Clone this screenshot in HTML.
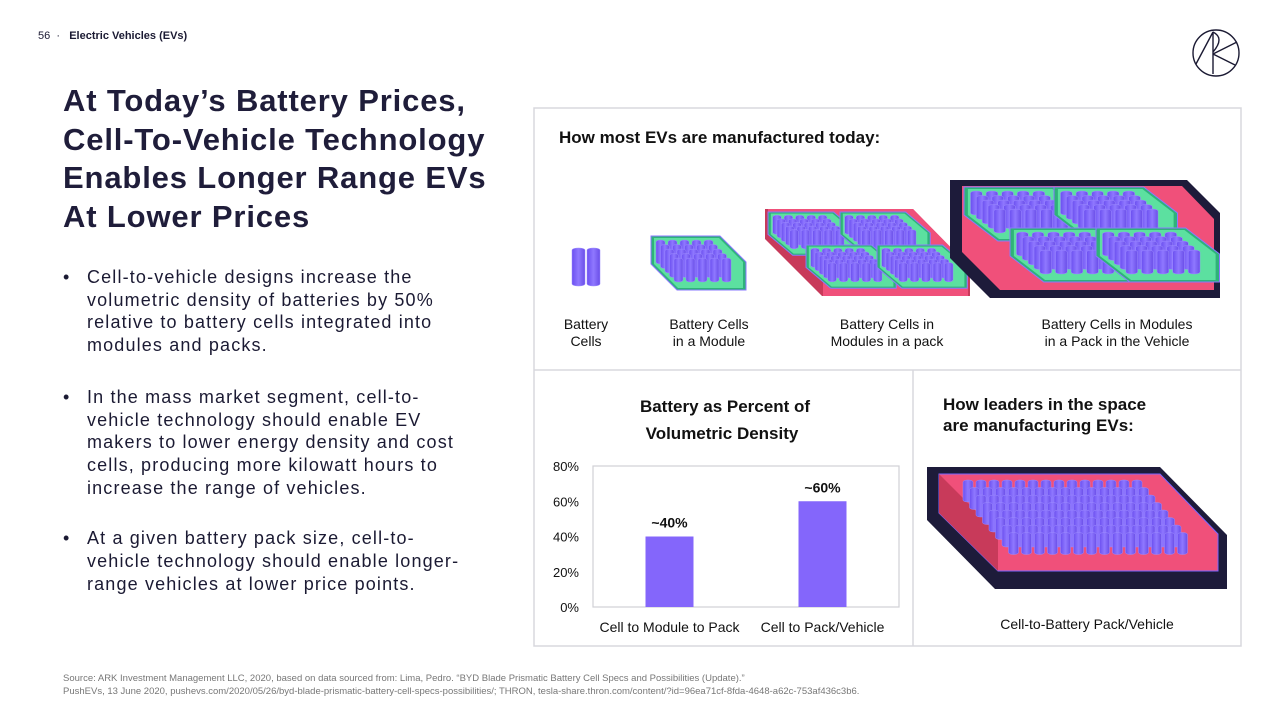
<!DOCTYPE html>
<html><head><meta charset="utf-8">
<style>
body{margin:0;width:1280px;height:720px;background:#fff;font-family:"Liberation Sans",sans-serif;color:#1b1a33;position:relative;overflow:hidden}
.a{position:absolute}
.b{position:relative;padding-left:24px;white-space:nowrap}
.b span{position:absolute;left:0}
</style></head><body>
<div class="a" style="left:38px;top:30px;font-size:11px">56 &nbsp;·&nbsp;&nbsp; <b>Electric Vehicles (EVs)</b></div>
<svg class="a" style="left:1191px;top:28px" width="50" height="50" viewBox="0 0 50 50"><g fill="none" stroke="#1b1a33" stroke-width="1.4"><circle cx="25" cy="25" r="23"/><path d="M5 36 L22 4 L22 46 M22 26 L46 14 M22 26 L44 37 M22 4 Q34 10 22 24"/></g></svg>
<div class="a" style="left:63px;top:82px;font-size:31px;font-weight:bold;line-height:38.5px;color:#1f1d3a;letter-spacing:0.85px;white-space:nowrap">At Today’s Battery Prices,<br>Cell-To-Vehicle Technology<br>Enables Longer Range EVs<br>At Lower Prices</div>
<div class="a" style="left:63px;top:266px;font-size:18px;line-height:22.7px;letter-spacing:1.15px">
<div class="b"><span>•</span>Cell-to-vehicle designs increase the<br>volumetric density of batteries by 50%<br>relative to battery cells integrated into<br>modules and packs.</div>
<div class="b" style="margin-top:29px"><span>•</span>In the mass market segment, cell-to-<br>vehicle technology should enable EV<br>makers to lower energy density and cost<br>cells, producing more kilowatt hours to<br>increase the range of vehicles.</div>
<div class="b" style="margin-top:28px"><span>•</span>At a given battery pack size, cell-to-<br>vehicle technology should enable longer-<br>range vehicles at lower price points.</div>
</div>
<div class="a" style="left:63px;top:672px;font-size:9.5px;line-height:13px;color:#777">Source: ARK Investment Management LLC, 2020, based on data sourced from: Lima, Pedro. “BYD Blade Prismatic Battery Cell Specs and Possibilities (Update).”<br>PushEVs, 13 June 2020, pushevs.com/2020/05/26/byd-blade-prismatic-battery-cell-specs-possibilities/; THRON, tesla-share.thron.com/content/?id=96ea71cf-8fda-4648-a62c-753af436c3b6.</div>

<svg class="a" id="main" style="left:0;top:0" width="1280" height="720">
<defs><linearGradient id="cyl" x1="0" x2="1"><stop offset="0" stop-color="#6b4ff0"/><stop offset=".5" stop-color="#8f78ff"/><stop offset="1" stop-color="#6a4ee8"/></linearGradient></defs>
<g fill="none" stroke="#d8d8de" stroke-width="1.5"><rect x="534" y="108" width="707" height="538"/><line x1="534" y1="370" x2="1241" y2="370"/><line x1="913" y1="370" x2="913" y2="646"/></g>
<text x="559" y="143" font-size="17" font-weight="bold" fill="#111">How most EVs are manufactured today:</text>
<g font-size="14" fill="#111" text-anchor="middle">
<text x="586" y="329">Battery</text><text x="586" y="346">Cells</text>
<text x="709" y="329">Battery Cells</text><text x="709" y="346">in a Module</text>
<text x="887" y="329">Battery Cells in</text><text x="887" y="346">Modules in a pack</text>
<text x="1117" y="329">Battery Cells in Modules</text><text x="1117" y="346">in a Pack in the Vehicle</text>
<text x="1087" y="629">Cell-to-Battery Pack/Vehicle</text>
</g>
<g font-size="17" font-weight="bold" fill="#111">
<text x="725" y="412" text-anchor="middle">Battery as Percent of</text><text x="722" y="439" text-anchor="middle">Volumetric Density</text>
<text x="943" y="410">How leaders in the space</text><text x="943" y="431">are manufacturing EVs:</text>
</g>
<g id="illus"></g>
<g id="chart"></g>
</svg>
<script>
const categories=["Cell to Module to Pack","Cell to Pack/Vehicle"];
const values=[40,60];
const valueLabels=["~40%","~60%"];
const ticks=[0,20,40,60,80];
const NS="http://www.w3.org/2000/svg";
function mk(p,t,a){const e=document.createElementNS(NS,t);for(const k in a)e.setAttribute(k,a[k]);p.appendChild(e);return e;}
const ch=document.getElementById('chart');
const x0=593,x1=899,y0=607,y1=466;
const y=v=>y0-(v/80)*(y0-y1);
const band=(x1-x0)/categories.length;
const xc=i=>x0+band*(i+0.5);
const fr=mk(ch,'rect',{x:x0,y:y1,width:x1-x0,height:y0-y1,fill:'none',stroke:'#d0d0d6','stroke-width':1.2});


ticks.forEach(t=>{const e=mk(ch,'text',{x:x0-14,y:y(t)+5,'text-anchor':'end','font-size':13,fill:'#111'});e.textContent=t+'%';

});
values.forEach((v,i)=>{const b=mk(ch,'rect',{x:xc(i)-24,y:y(v),width:48,height:y0-y(v),fill:'#8466fb'});


const l=mk(ch,'text',{x:xc(i),y:y(v)-9,'text-anchor':'middle','font-size':14,'font-weight':'bold',fill:'#111'});l.textContent=valueLabels[i];


const c=mk(ch,'text',{x:xc(i),y:632,'text-anchor':'middle','font-size':14,fill:'#111'});c.textContent=categories[i];

});
const il=document.getElementById('illus');


function poly(pts,f,s){mk(il,'polygon',{points:pts,fill:f,stroke:s||'none','stroke-width':1});}
function cyls(x,yy,cols,rows,w,h,dx,dy,shift){for(let r=0;r<rows;r++)for(let c=0;c<cols;c++){const cx=x+c*dx+r*shift,cy=yy+r*dy;mk(il,'rect',{x:cx,y:cy,width:w,height:h,rx:w/2,ry:2,fill:'url(#cyl)',stroke:'#9d8cff','stroke-width':.5});}}
cyls(572,248,2,1,13,38,15,0,0);
function module(x,yy,s,t){t=t||s;
poly(`${x},${yy} ${x+69*s},${yy} ${x+95*s},${yy+26*t} ${x+95*s},${yy+54*t} ${x+26*s},${yy+54*t} ${x},${yy+28*t}`,'#2fb27a','#8a78ff');
poly(`${x+3*s},${yy+2*t} ${x+68*s},${yy+2*t} ${x+92*s},${yy+26*t} ${x+92*s},${yy+52*t} ${x+27*s},${yy+52*t} ${x+3*s},${yy+28*t}`,'#5ce0a0');
cyls(x+5*s,yy+4*t,5,5,9*s,24*t,12*s,4.5*t,4.5*s);}
module(651,236,1);
poly('765,209 913,209 970,267 970,296 822,296 765,239','#c83a5a');
poly('768,209 913,209 968,265 968,296 823,296 823,266 768,212','#f0507a');
module(768,212,0.95,0.8);module(840,212,0.95,0.8);module(806,245,0.95,0.8);module(877,245,0.95,0.8);
poly('950,180 1187,180 1220,213 1220,298 990,298 950,258','#1d1b3a');
poly('962,186 1182,186 1214,219 1214,290 1000,290 962,252','#f0507a');
module(964,187,1.3,1.0);module(1054,187,1.3,1.0);module(1010,228,1.3,1.0);module(1096,228,1.3,1.0);
poly('927,467 1160,467 1227,535 1227,589 995,589 927,520','#1d1b3a');
poly('939,474 1160,474 1218,534 1218,571 998,571 939,513','#f0507a','#7a66ff');
poly('939,474 998,533 998,571 939,513','#c83a5a');
cyls(963,480,14,8,10,22,13,7.5,6.5);
</script>
</body></html>
